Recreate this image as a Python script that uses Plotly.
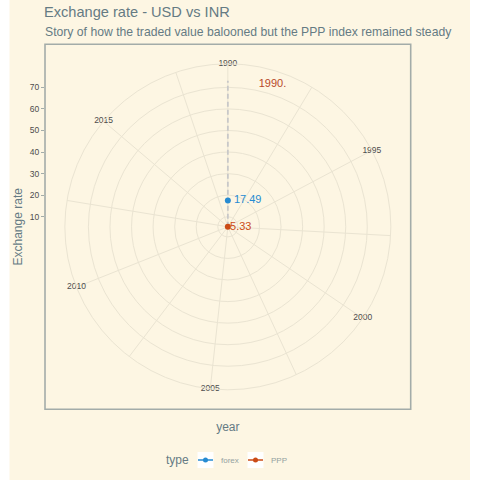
import plotly.graph_objects as go

# ---------------- data ----------------
years_current = [1990]
forex_values = [17.49]
ppp_values = [5.33]
series_names = ["forex", "PPP"]
theta_tick_years = [1990, 1995, 2000, 2005, 2010, 2015]
theta_grid_years = [1990, 1992.5, 1995, 1997.5, 2000, 2002.5, 2005, 2007.5,
                    2010, 2012.5, 2015, 2017.5]
radial_ticks = [10, 20, 30, 40, 50, 60, 70]
frame_label = "1990."
frame_label_year = [1991.4]
frame_label_r = [74.6]

# ---------------- scales ----------------
YEAR_MIN, YEAR_MAX = 1990, 2019          # theta range (full circle)
R_MIN = 5.33                              # r at centre
R_DATA_MAX = 73.05                        # r at 0.4 of panel
R_OUTER = 80.93                           # r at 0.45 of panel (outer ring)

def theta(y):
    return (y - YEAR_MIN) * 360.0 / (YEAR_MAX - YEAR_MIN)

W = H = 480
def px(x):
    return x / W
def py(y):
    return 1 - y / H

BG = "#fdf6e3"
GRID = "#eae4d2"
BORDER = "#a3aca9"
BLUE = "#268bd2"
ORANGE = "#cb4b16"
FONT = "Liberation Sans"

# panel in pixels
PL, PR, PT, PB = 45, 410.7, 44.3, 409.3
CX, CY = (PL + PR) / 2, (PT + PB) / 2
R_PX = 163

fig = go.Figure()

# vertical (dashed) marker for current year
fig.add_trace(go.Scatterpolar(
    r=[R_MIN, R_DATA_MAX], theta=[theta(years_current[0])] * 2,
    mode="lines", line=dict(color="#c8c8c8", width=1.8, dash="5px,3px"),
    showlegend=False, hoverinfo="skip"))

# series points
fig.add_trace(go.Scatterpolar(
    r=forex_values, theta=[theta(y) for y in years_current], name=series_names[0],
    mode="lines+markers", line=dict(color=BLUE, width=1.5),
    marker=dict(color=BLUE, size=6), showlegend=False))
fig.add_trace(go.Scatterpolar(
    r=ppp_values, theta=[theta(y) for y in years_current], name=series_names[1],
    mode="lines+markers", line=dict(color=ORANGE, width=1.5),
    marker=dict(color=ORANGE, size=6), showlegend=False))

# value labels
fig.add_trace(go.Scatterpolar(
    r=forex_values, theta=[theta(y) for y in years_current],
    mode="text", text=[f"  {v:.2f}" for v in forex_values], textposition="middle right",
    textfont=dict(color=BLUE, size=11, family=FONT), showlegend=False,
    hoverinfo="skip", cliponaxis=False))
fig.add_trace(go.Scatterpolar(
    r=ppp_values, theta=[theta(y) for y in years_current],
    mode="text", text=[f"\u2009{v:.2f}" for v in ppp_values], textposition="middle right",
    textfont=dict(color=ORANGE, size=11, family=FONT), showlegend=False,
    hoverinfo="skip", cliponaxis=False))

# frame label
fig.add_trace(go.Scatterpolar(
    r=frame_label_r, theta=[theta(y) for y in frame_label_year],
    mode="text", text=[frame_label], textfont=dict(color="#b8492a", size=11, family=FONT),
    showlegend=False, hoverinfo="skip", cliponaxis=False))

# angular tick labels on the outer ring
fig.add_trace(go.Scatterpolar(
    r=[R_OUTER] * len(theta_tick_years), theta=[theta(y) for y in theta_tick_years],
    mode="text", text=[str(y) for y in theta_tick_years],
    textfont=dict(color="#4d4d4d", size=8.5, family=FONT),
    showlegend=False, hoverinfo="skip", cliponaxis=False))

# dummy cartesian trace for the left r-axis
fig.add_trace(go.Scatter(x=[None], y=[None], xaxis="x", yaxis="y",
                         showlegend=False, hoverinfo="skip"))

px_per_unit = R_PX / (R_OUTER - R_MIN)
y_top = R_MIN + (CY - PT) / px_per_unit
y_bot = R_MIN - (PB - CY) / px_per_unit

fig.update_layout(
    width=W, height=H,
    margin=dict(l=0, r=0, t=0, b=0),
    paper_bgcolor="white", plot_bgcolor="rgba(0,0,0,0)",
    font=dict(family=FONT, color="#657b83"),
    showlegend=False,
    title=dict(text="Exchange rate - USD vs INR", x=px(44), xanchor="left",
               xref="paper", y=py(12), yref="paper", yanchor="middle",
               font=dict(size=14.6, color="#657b83", family=FONT)),
    polar=dict(
        domain=dict(x=[px(CX - R_PX), px(CX + R_PX)], y=[py(CY + R_PX), py(CY - R_PX)]),
        bgcolor="rgba(0,0,0,0)",
        radialaxis=dict(range=[R_MIN, R_OUTER], tickvals=radial_ticks, showticklabels=False,
                        ticks="", showline=False, gridcolor=GRID, gridwidth=1),
        angularaxis=dict(rotation=90, direction="clockwise", thetaunit="degrees",
                         tickvals=[theta(y) for y in theta_grid_years],
                         showticklabels=False, ticks="", showline=True,
                         linecolor=GRID, linewidth=1, gridcolor=GRID, gridwidth=1),
    ),
    xaxis=dict(domain=[px(PL), px(PR)], range=[0, 1], showgrid=False, zeroline=False,
               showticklabels=False, ticks="", showline=False,
               title=dict(text="year", font=dict(size=12, color="#657b83"), standoff=13)),
    yaxis=dict(domain=[py(PB), py(PT)], range=[y_bot, y_top], tickvals=radial_ticks,
               showgrid=False, zeroline=False, showline=False, ticks="outside",
               ticklen=3, tickcolor=BORDER, tickwidth=1,
               tickfont=dict(size=8.5, color="#4d4d4d"),
               title=dict(text="Exchange rate", font=dict(size=12, color="#657b83"),
                          standoff=4)),
    annotations=[
        dict(text="Story of how the traded value balooned but the PPP index remained steady",
             x=px(43), y=py(31.5), xref="paper", yref="paper", xanchor="left",
             yanchor="middle", showarrow=False,
             font=dict(size=12.2, color="#657b83", family=FONT)),
        dict(text="type", x=px(191), y=py(460), xref="paper", yref="paper",
             xanchor="right", yanchor="middle", showarrow=False,
             font=dict(size=12, color="#657b83")),
        dict(text="forex", x=px(219), y=py(460), xref="paper", yref="paper",
             xanchor="left", yanchor="middle", showarrow=False,
             font=dict(size=8, color="#93a1a1")),
        dict(text="PPP", x=px(269), y=py(460), xref="paper", yref="paper",
             xanchor="left", yanchor="middle", showarrow=False,
             font=dict(size=8, color="#93a1a1")),
    ],
    shapes=[
        dict(type="rect", xref="paper", yref="paper", x0=px(9.5), x1=px(470),
             y0=py(480), y1=py(0), fillcolor=BG, line=dict(width=0), layer="below"),
        dict(type="rect", xref="paper", yref="paper", x0=px(PL), x1=px(PR),
             y0=py(PB), y1=py(PT), line=dict(color=BORDER, width=1.6), layer="above"),
        # legend keys
        dict(type="rect", xref="paper", yref="paper", x0=px(197.5), x1=px(213.5),
             y0=py(468), y1=py(452), fillcolor="white", line=dict(width=0), layer="below"),
        dict(type="line", xref="paper", yref="paper", x0=px(198), x1=px(213),
             y0=py(460), y1=py(460), line=dict(color=BLUE, width=1.5)),
        dict(type="circle", xref="paper", yref="paper", x0=px(203), x1=px(208),
             y0=py(462.5), y1=py(457.5), fillcolor=BLUE, line=dict(width=0)),
        dict(type="rect", xref="paper", yref="paper", x0=px(247.5), x1=px(263.5),
             y0=py(468), y1=py(452), fillcolor="white", line=dict(width=0), layer="below"),
        dict(type="line", xref="paper", yref="paper", x0=px(248), x1=px(263),
             y0=py(460), y1=py(460), line=dict(color=ORANGE, width=1.5)),
        dict(type="circle", xref="paper", yref="paper", x0=px(253), x1=px(258),
             y0=py(462.5), y1=py(457.5), fillcolor=ORANGE, line=dict(width=0)),
    ],
)

fig.write_html("out.html", config={"displayModeBar": False},
               post_script="document.body.style.margin='0';")
